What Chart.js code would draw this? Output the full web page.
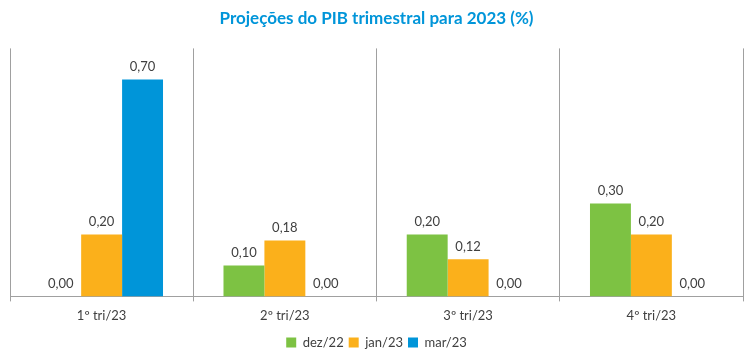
<!DOCTYPE html>
<html><head><meta charset="utf-8">
<script src="https://cdn.jsdelivr.net/npm/chart.js@4/dist/chart.umd.min.js"></script>
<style>html,body{margin:0;padding:0;background:#fff}#wrap{width:750px;height:355px}</style>
</head><body><div id="wrap"><canvas id="c"></canvas></div>
<script>
const categories = ['1º tri/23', '2º tri/23', '3º tri/23', '4º tri/23'];
const seriesNames = ['dez/22', 'jan/23', 'mar/23'];
const dez22 = [0.00, 0.10, 0.20, 0.30];
const jan23 = [0.20, 0.18, 0.12, 0.20];
const mar23 = [0.70, 0.00, 0.00, 0.00];
const colors = ['#7DC243', '#FBB01B', '#0095D9'];

const fmt = v => v.toFixed(2).replace('.', ',');
const labelPlugin = {
  id: 'vlabels',
  afterDatasetsDraw(chart) {
    const ctx = chart.ctx;
    ctx.save();
    ctx.font = '13px Lato, "Open Sans", sans-serif';
    ctx.fillStyle = '#404040';
    ctx.textAlign = 'center';
    ctx.textBaseline = 'bottom';
    chart.data.datasets.forEach((ds, i) => {
      chart.getDatasetMeta(i).data.forEach((el, j) => {
        ctx.fillText(fmt(ds.data[j]), el.x, el.y - 6);
      });
    });
    ctx.restore();
  }
};

new Chart(document.getElementById('c'), {
  type: 'bar',
  data: {
    labels: categories,
    datasets: [
      { label: seriesNames[0], data: dez22, backgroundColor: colors[0] },
      { label: seriesNames[1], data: jan23, backgroundColor: colors[1] },
      { label: seriesNames[2], data: mar23, backgroundColor: colors[2] }
    ]
  },
  options: {
    responsive: true, maintainAspectRatio: false, animation: false,
    layout: { padding: { left: 10, right: 7, top: 4, bottom: -4 } },
    datasets: { bar: { categoryPercentage: 0.67, barPercentage: 1.0 } },
    plugins: {
      title: { display: true, text: 'Projeções do PIB trimestral para 2023 (%)', color: '#0095D9',
        font: { family: 'Lato, "Open Sans", sans-serif', size: 17, weight: 'bold' }, padding: { top: 4, bottom: 20 } },
      legend: { position: 'bottom', labels: { boxWidth: 10, boxHeight: 10, padding: 5, color: '#404040',
        font: { family: 'Lato, "Open Sans", sans-serif', size: 13 } } },
      tooltip: { enabled: false }
    },
    scales: {
      x: {
        grid: { display: true, offset: true, color: '#A0A0A0', lineWidth: 1, tickLength: 5, drawTicks: true },
        border: { display: true, color: '#A0A0A0' },
        ticks: { color: '#404040', padding: 7, font: { family: 'Lato, "Open Sans", sans-serif', size: 13 } }
      },
      y: { display: false, min: 0, max: 0.8 }
    }
  },
  plugins: [labelPlugin]
});
</script></body></html>
